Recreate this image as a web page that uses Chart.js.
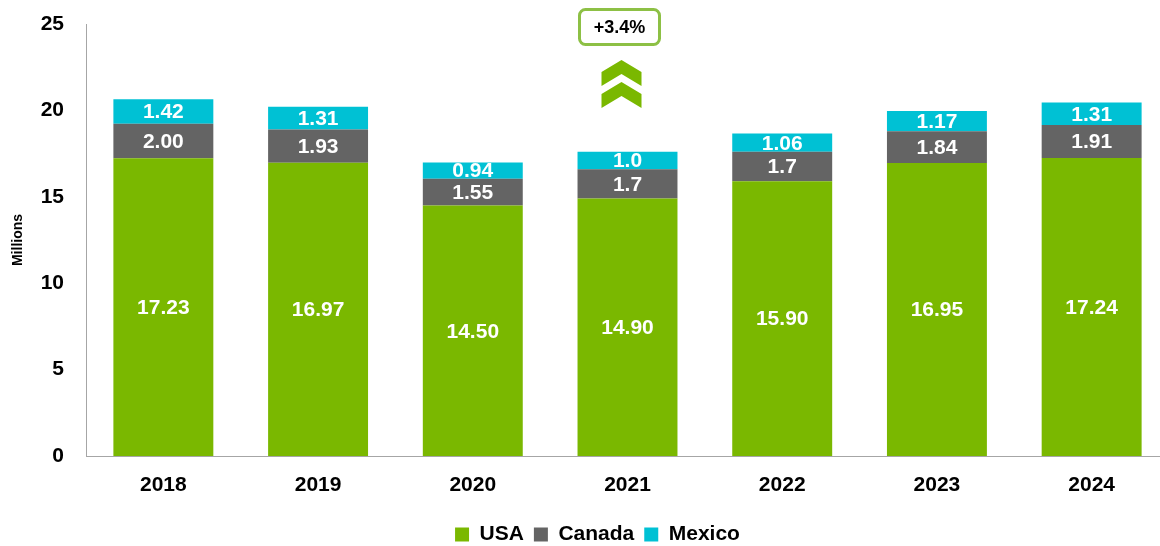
<!DOCTYPE html>
<html>
<head>
<meta charset="utf-8">
<script src="https://cdn.jsdelivr.net/npm/chart.js@4.4.1/dist/chart.umd.min.js"></script>
<style>
  html, body { margin: 0; padding: 0; background: #fff; overflow: hidden; }
  #wrap { position: relative; width: 1172px; height: 546px; }
</style>
</head>
<body>
<div id="wrap"><canvas id="chart"></canvas></div>
<script>
// values
const years = ['2018', '2019', '2020', '2021', '2022', '2023', '2024'];
const usa = [17.23, 16.97, 14.50, 14.90, 15.90, 16.95, 17.24];
const canada = [2.00, 1.93, 1.55, 1.7, 1.7, 1.84, 1.91];
const mexico = [1.42, 1.31, 0.94, 1.0, 1.06, 1.17, 1.31];
// labels as printed on the bars (decimals differ per bar)
const usaLabels = ['17.23', '16.97', '14.50', '14.90', '15.90', '16.95', '17.24'];
const canadaLabels = ['2.00', '1.93', '1.55', '1.7', '1.7', '1.84', '1.91'];
const mexicoLabels = ['1.42', '1.31', '0.94', '1.0', '1.06', '1.17', '1.31'];
const yTicks = [0, 5, 10, 15, 20, 25];
const growthLabel = '+3.4%';
const growthYear = '2021';

const FONT = '"Liberation Sans", Arial, sans-serif';

// white value labels centred in each segment
const barLabels = {
  id: 'barLabels',
  afterDatasetsDraw(chart) {
    const ctx = chart.ctx;
    ctx.save();
    ctx.font = 'bold 21px ' + FONT;
    ctx.fillStyle = '#fff';
    ctx.textAlign = 'center';
    ctx.textBaseline = 'middle';
    chart.data.datasets.forEach((ds, i) => {
      chart.getDatasetMeta(i).data.forEach((bar, j) => {
        const p = bar.getProps(['x', 'y', 'base'], true);
        ctx.fillText(ds.valueLabels[j], p.x, (p.y + p.base) / 2 + 1);
      });
    });
    ctx.restore();
  }
};

// "+3.4%" callout with the double chevron above 2021
const growthMark = {
  id: 'growthMark',
  afterDraw(chart) {
    const idx = years.indexOf(growthYear);
    const cx = chart.scales.x.getPixelForValue(idx);
    const ctx = chart.ctx;
    const bx = cx - 8;
    ctx.save();
    ctx.beginPath();
    ctx.roundRect(bx - 40, 9.5, 80, 35, 6);
    ctx.fillStyle = '#fff';
    ctx.fill();
    ctx.lineWidth = 3;
    ctx.strokeStyle = '#8dc045';
    ctx.stroke();
    ctx.fillStyle = '#000';
    ctx.font = 'bold 18px ' + FONT;
    ctx.textAlign = 'center';
    ctx.textBaseline = 'middle';
    ctx.fillText(growthLabel, bx, 28);
    const x = cx - 6;
    ctx.fillStyle = '#7ab800';
    [60, 82].forEach(t => {
      ctx.beginPath();
      ctx.moveTo(x, t);
      ctx.lineTo(x + 20, t + 12);
      ctx.lineTo(x + 20, t + 26);
      ctx.lineTo(x, t + 14);
      ctx.lineTo(x - 20, t + 26);
      ctx.lineTo(x - 20, t + 12);
      ctx.closePath();
      ctx.fill();
    });
    ctx.restore();
  }
};

// nudge the legend to where it sits in the original
const legendShift = {
  id: 'legendShift',
  afterLayout(chart) {
    const lg = chart.legend;
    lg.left += 13; lg.right += 13;
    lg.top += 9; lg.bottom += 9;
  }
};

new Chart(document.getElementById('chart'), {
  type: 'bar',
  data: {
    labels: years,
    datasets: [
      { label: 'USA', data: usa, valueLabels: usaLabels, backgroundColor: '#7ab800' },
      { label: 'Canada', data: canada, valueLabels: canadaLabels, backgroundColor: '#646464' },
      { label: 'Mexico', data: mexico, valueLabels: mexicoLabels, backgroundColor: '#00c1d4' }
    ]
  },
  options: {
    responsive: true,
    maintainAspectRatio: false,
    animation: false,
    categoryPercentage: 1,
    barPercentage: 0.646,
    layout: { padding: { top: 24, right: 3, left: 0, bottom: 0 } },
    scales: {
      x: {
        stacked: true,
        afterFit: s => { s.height = 49; },
        grid: { display: false, drawTicks: false },
        border: { display: true, color: '#a6a6a6' },
        ticks: { padding: 17, color: '#000', font: { family: FONT, size: 21, weight: 'bold' } }
      },
      y: {
        stacked: true,
        min: 0,
        max: 25,
        afterBuildTicks: s => { s.ticks = yTicks.map(v => ({ value: v })); },
        afterFit: s => { s.width = 86; s.paddingTop = 0; },
        grid: { display: false, drawTicks: false },
        border: { display: true, color: '#a6a6a6' },
        ticks: { padding: 22, color: '#000', font: { family: FONT, size: 21, weight: 'bold' } },
        title: {
          display: true,
          text: 'Millions',
          color: '#000',
          padding: { top: 10, bottom: 0 },
          font: { family: FONT, size: 14, weight: 'bold' }
        }
      }
    },
    plugins: {
      tooltip: { enabled: false },
      legend: {
        position: 'bottom',
        labels: {
          boxWidth: 14,
          boxHeight: 14,
          padding: 10,
          color: '#000',
          font: { family: FONT, size: 21, weight: 'bold' }
        }
      }
    }
  },
  plugins: [barLabels, growthMark, legendShift]
});
</script>
</body>
</html>
